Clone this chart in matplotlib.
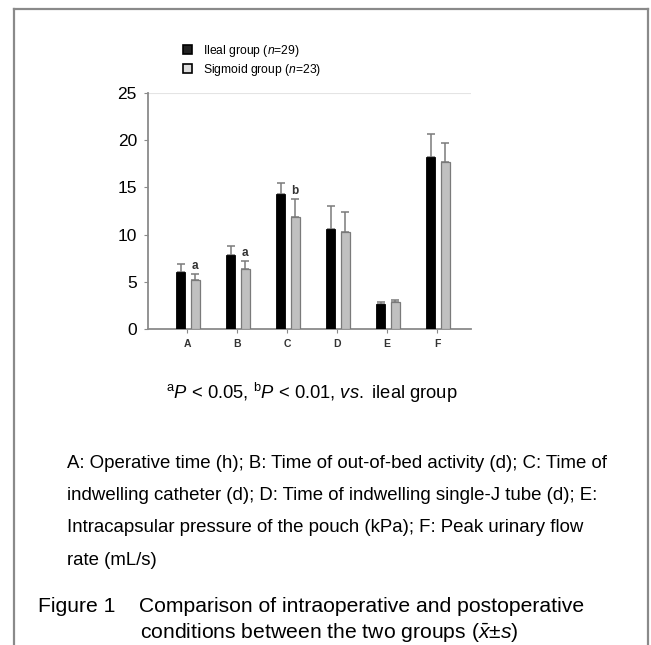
import numpy as np
import matplotlib
matplotlib.use("Agg")
import matplotlib.pyplot as plt
from matplotlib.patches import Rectangle
from matplotlib.lines import Line2D

plt.rcParams["font.family"] = ["Liberation Sans", "DejaVu Sans"]
plt.rcParams["mathtext.fontset"] = "custom"
plt.rcParams["mathtext.rm"] = "Liberation Sans"
plt.rcParams["mathtext.it"] = "Liberation Sans:italic"
plt.rcParams["mathtext.bf"] = "Liberation Sans:bold"

# ── Data ──
categories = ["A", "B", "C", "D", "E", "F"]
ileal_mean = [6.0, 7.8, 14.3, 10.6, 2.7, 18.2]
ileal_sd = [0.9, 0.95, 1.2, 2.45, 0.15, 2.5]
sigmoid_mean = [5.15, 6.4, 11.85, 10.25, 2.9, 17.7]
sigmoid_sd = [0.65, 0.8, 1.9, 2.1, 0.2, 2.0]
sig_marks = ["a", "a", "b", "", "", ""]

legend_labels = [r"Ileal group ($\mathit{n}$=29)", r"Sigmoid group ($\mathit{n}$=23)"]
footnote = (r"$^{\rm a}\mathit{P}$ < 0.05, $^{\rm b}\mathit{P}$ < 0.01, "
            r"$\mathit{vs.}$ ileal group")
desc_lines = [
    "A: Operative time (h); B: Time of out-of-bed activity (d); C: Time of",
    "indwelling catheter (d); D: Time of indwelling single-J tube (d); E:",
    "Intracapsular pressure of the pouch (kPa); F: Peak urinary flow",
    "rate (mL/s)",
]
caption_1 = "Figure 1    Comparison of intraoperative and postoperative"
caption_2 = r"conditions between the two groups ($\bar{\mathit{x}}$±$\mathit{s}$)"

W, H = 651, 645
fig = plt.figure(figsize=(W / 100, H / 100), dpi=100)

# ── Frame around the figure (open at the bottom) ──
gray = "#8a8a8a"
fig.add_artist(Line2D([14 / W, 14 / W], [0, 1 - 9 / H], color=gray, lw=1.6,
                      transform=fig.transFigure))
fig.add_artist(Line2D([14 / W, 648 / W], [1 - 9 / H, 1 - 9 / H], color=gray,
                      lw=1.6, transform=fig.transFigure))
fig.add_artist(Line2D([648 / W, 648 / W], [0, 1 - 9 / H], color=gray, lw=1.6,
                      transform=fig.transFigure))

# ── Bar chart ──
ax = fig.add_axes([148 / W, 1 - 329 / H, (471 - 148) / W, (329 - 93) / H])
x = np.arange(len(categories))
bw = 0.18
ax.bar(x - 0.13, ileal_mean, bw, color="black", edgecolor="black", lw=0.6,
       zorder=3)
ax.bar(x + 0.16, sigmoid_mean, bw, color="#c0c0c0", edgecolor="#7a7a7a",
       lw=0.9, zorder=3)
ax.errorbar(x - 0.13, ileal_mean, yerr=[np.zeros(6), ileal_sd], fmt="none",
            ecolor="#7a7a7a", elinewidth=1.1, capsize=3.2, capthick=1.1,
            zorder=2)
ax.errorbar(x + 0.16, sigmoid_mean, yerr=[np.zeros(6), sigmoid_sd], fmt="none",
            ecolor="#7a7a7a", elinewidth=1.1, capsize=3.2, capthick=1.1,
            zorder=2)
for xi, m, s, mark in zip(x, sigmoid_mean, sigmoid_sd, sig_marks):
    if mark:
        ax.text(xi + 0.16, m + s + 0.25, mark, ha="center", va="bottom",
                fontsize=8.5, fontweight="bold", color="#333333")

ax.set_xlim(-0.78, 5.68)
ax.set_ylim(0, 25)
ax.set_yticks([0, 5, 10, 15, 20, 25])
ax.set_xticks(x)
ax.set_xticklabels(categories, fontsize=7.5, fontweight="bold", color="#333333")
ax.tick_params(axis="y", labelsize=12.5, length=3, color=gray, pad=5)
ax.tick_params(axis="x", length=3, color=gray, pad=4)
ax.axhline(25, color="#e4e4e4", lw=0.8, zorder=0)
for side in ["top", "right"]:
    ax.spines[side].set_visible(False)
for side in ["left", "bottom"]:
    ax.spines[side].set_color(gray)
    ax.spines[side].set_linewidth(1.3)

# ── Legend ──
handles = [Rectangle((0, 0), 1, 1, fc="#222222", ec="black", lw=1.2),
           Rectangle((0, 0), 1, 1, fc="#dddddd", ec="black", lw=1.2)]
fig.legend(handles, legend_labels, loc="upper left",
           bbox_to_anchor=(178 / W, 1 - 38 / H), frameon=False, fontsize=8.7,
           handlelength=0.75, handleheight=0.75, handletextpad=0.9,
           labelspacing=0.25, borderaxespad=0)

# ── Texts below the chart ──
fig.text(312 / W, 1 - 393 / H, footnote, ha="center", va="center", fontsize=13.2)
for i, line in enumerate(desc_lines):
    fig.text(67 / W, 1 - (463 + i * 32.5) / H, line, ha="left", va="center",
             fontsize=13.4)
fig.text(38 / W, 1 - 607 / H, caption_1, ha="left", va="center", fontsize=15.2)
fig.text(140 / W, 1 - 632 / H, caption_2, ha="left", va="center", fontsize=15.2)

fig.savefig("out.png", dpi=100)
